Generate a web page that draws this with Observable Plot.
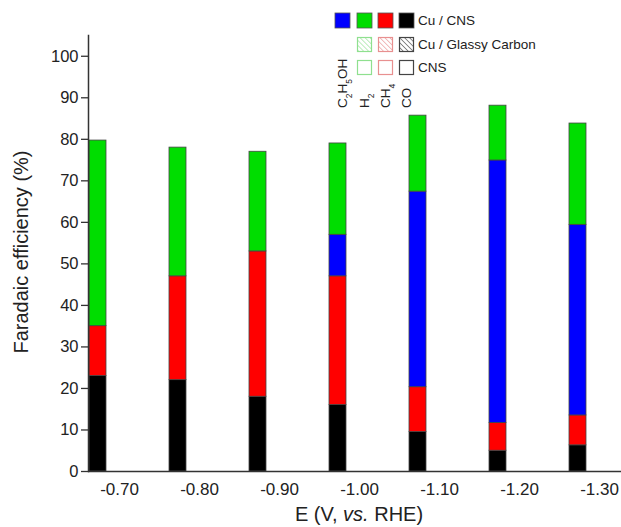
<!DOCTYPE html>
<html><head><meta charset="utf-8">
<script src="https://cdn.jsdelivr.net/npm/d3@7"></script>
<script src="https://cdn.jsdelivr.net/npm/@observablehq/plot@0.6"></script>
<style>body{margin:0;background:#fff}#chart{width:621px;height:527px}</style>
</head><body><div id="chart"></div>
<script>
// ---- data ----
const potentials = [-0.70, -0.80, -0.90, -1.00, -1.10, -1.20, -1.30];
const tickLabels = ["-0.70", "-0.80", "-0.90", "-1.00", "-1.10", "-1.20", "-1.30"];
const yTicks = [0, 10, 20, 30, 40, 50, 60, 70, 80, 90, 100];
// stacking order, bottom to top
const products = ["CO", "CH4", "C2H5OH", "H2"];
const coFE      = [23, 22, 18, 16, 9.5, 5, 6.3];
const ch4FE     = [12, 25, 35, 31, 10.8, 6.7, 7.2];
const ethanolFE = [0, 0, 0, 10, 47.1, 63.2, 45.9];
const h2FE      = [44.7, 31, 24, 22, 18.3, 13.2, 24.4];
const productColors = ["#000000", "#ff0000", "#0000ff", "#00dd00"];

const series = {CO: coFE, CH4: ch4FE, C2H5OH: ethanolFE, H2: h2FE};
const rows = [];
potentials.forEach((E, i) => {
  let base = 0;
  for (const p of products) {
    const v = series[p][i];
    if (v > 0) rows.push({E, product: p, y1: base, y2: base + v});
    base += v;
  }
});

// bar sits to the left of its tick label (offsets in volts)
const barLeft = 0.0375, barRight = 0.01625;
const font = "'Liberation Sans', Arial, sans-serif";

const plot = Plot.plot({
  width: 621, height: 527,
  marginLeft: 88, marginRight: 0, marginTop: 35, marginBottom: 56,
  style: {fontFamily: font, fontSize: "17px", color: "#222", background: "#fff"},
  x: {type: "linear", domain: [-0.66125, -1.3275], axis: null},
  y: {domain: [0, 105], axis: null},
  color: {domain: products, range: productColors},
  marks: [
    Plot.rectY(rows, {x1: d => d.E + barLeft, x2: d => d.E + barRight, y1: "y1", y2: "y2",
      fill: "product", stroke: "#444", strokeWidth: 0.8}),
    Plot.axisY({ticks: yTicks, tickSize: 7, tickPadding: 3, label: null, stroke: "#333", strokeWidth: 1.3, fontSize: 16.5}),
    Plot.axisX({ticks: potentials, tickFormat: d => tickLabels[potentials.indexOf(d)], tickSize: 0, tickPadding: 11, label: null, fontSize: 17}),
    Plot.ruleY([0], {stroke: "#333", strokeWidth: 1.5}),
    Plot.frame({anchor: "left", stroke: "#333", strokeWidth: 1.5})
  ]
});
document.getElementById("chart").appendChild(plot);

const svg = d3.select(plot);
// axis titles
svg.append("text")
  .attr("transform", "translate(23,252) rotate(-90)")
  .attr("text-anchor", "middle").attr("dominant-baseline", "middle")
  .attr("font-family", font).attr("font-size", 20).attr("fill", "#222")
  .text("Faradaic efficiency (%)");
const xl = svg.append("text")
  .attr("x", 359).attr("y", 521).attr("text-anchor", "middle")
  .attr("font-family", font).attr("font-size", 20).attr("fill", "#222");
xl.append("tspan").text("E (V, ");
xl.append("tspan").attr("font-style", "italic").text("vs.");
xl.append("tspan").text(" RHE)");

// legend
const defs = svg.append("defs");
const lightColors = ["#8fe08f", "#e89090", "#444"];
lightColors.forEach((c, i) => {
  const p = defs.append("pattern").attr("id", "hatch" + i)
    .attr("patternUnits", "userSpaceOnUse").attr("width", 3.5).attr("height", 3.5)
    .attr("patternTransform", "rotate(-45)");
  p.append("line").attr("x1", 0).attr("y1", 0).attr("x2", 0).attr("y2", 3.5)
    .attr("stroke", c).attr("stroke-width", 1.2);
});
const lg = svg.append("g").attr("font-family", font).attr("fill", "#222").attr("text-anchor", "start");
const colX = [335, 357, 378, 399];
const rowColors = ["#0000ff", "#00dd00", "#ff0000", "#000000"];
colX.forEach((x, i) => {
  lg.append("rect").attr("x", x).attr("y", 13).attr("width", 15).attr("height", 15)
    .attr("fill", rowColors[i]).attr("stroke", "#555").attr("stroke-width", 0.8);
});
colX.slice(1).forEach((x, i) => {
  lg.append("rect").attr("x", x + 0.5).attr("y", 37.5).attr("width", 14).attr("height", 14)
    .attr("fill", `url(#hatch${i})`).attr("stroke", lightColors[i]).attr("stroke-width", 1.2);
  lg.append("rect").attr("x", x + 0.5).attr("y", 60.5).attr("width", 14).attr("height", 14)
    .attr("fill", "none").attr("stroke", lightColors[i]).attr("stroke-width", 1.2);
});
const legendRows = [["Cu / CNS", 21], ["Cu / Glassy Carbon", 45], ["CNS", 68]];
legendRows.forEach(([t, y]) => {
  lg.append("text").attr("x", 418).attr("y", y).attr("dominant-baseline", "middle")
    .attr("text-anchor", "start").attr("font-size", 13.5).text(t);
});
// rotated product labels
const prodLabels = [
  [["C", ""], ["2", "sub"], ["H", ""], ["5", "sub"], ["OH", ""]],
  [["H", ""], ["2", "sub"]],
  [["CH", ""], ["4", "sub"]],
  [["CO", ""]]
];
const labX = [347, 368.5, 390, 411];
prodLabels.forEach((parts, i) => {
  const t = lg.append("text").attr("transform", `translate(${labX[i]},108) rotate(-90)`)
    .attr("text-anchor", "start").attr("font-size", 13.5);
  parts.forEach(([s, k]) => {
    const ts = t.append("tspan").text(s);
    if (k === "sub") ts.attr("font-size", 8.5).attr("baseline-shift", "sub");
  });
});
</script>
</body></html>
